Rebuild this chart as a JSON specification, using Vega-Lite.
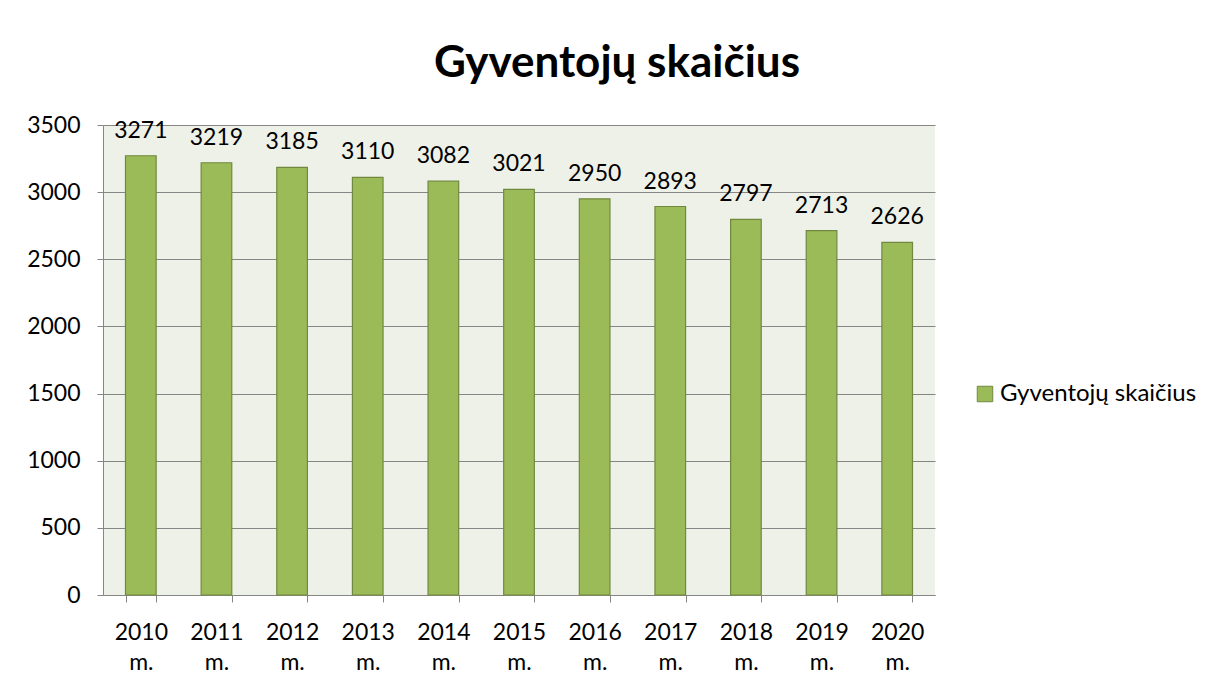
{
  "$schema": "https://vega.github.io/schema/vega-lite/v6.json",
  "width": 832,
  "height": 470,
  "autosize": {"type": "none"},
  "padding": {"left": 103, "top": 125, "right": 279, "bottom": 92},
  "background": "white",
  "config": {
    "font": "Lato",
    "view": {"fill": "#eef1e8", "stroke": null}
  },
  "title": {
    "text": "Gyventojų skaičius",
    "font": "Lato",
    "fontSize": 44,
    "fontWeight": "bold",
    "color": "#000000",
    "anchor": "middle",
    "dx": 98,
    "offset": 28
  },
  "data": {
    "values": [
      {"year": "2010 m.", "value": 3271, "series": "Gyventojų skaičius"},
      {"year": "2011 m.", "value": 3219, "series": "Gyventojų skaičius"},
      {"year": "2012 m.", "value": 3185, "series": "Gyventojų skaičius"},
      {"year": "2013 m.", "value": 3110, "series": "Gyventojų skaičius"},
      {"year": "2014 m.", "value": 3082, "series": "Gyventojų skaičius"},
      {"year": "2015 m.", "value": 3021, "series": "Gyventojų skaičius"},
      {"year": "2016 m.", "value": 2950, "series": "Gyventojų skaičius"},
      {"year": "2017 m.", "value": 2893, "series": "Gyventojų skaičius"},
      {"year": "2018 m.", "value": 2797, "series": "Gyventojų skaičius"},
      {"year": "2019 m.", "value": 2713, "series": "Gyventojų skaičius"},
      {"year": "2020 m.", "value": 2626, "series": "Gyventojų skaičius"}
    ]
  },
  "encoding": {
    "x": {
      "field": "year",
      "type": "nominal",
      "sort": null,
      "scale": {"paddingInner": 0.595, "paddingOuter": 0.2975},
      "axis": {
        "title": null,
        "labelAngle": 0,
        "labelExpr": "split(datum.label, ' ')",
        "labelFont": "Lato",
        "labelFontSize": 23,
        "labelColor": "#000000",
        "labelLineHeight": 30,
        "labelPadding": 19,
        "labelBaseline": "top",
        "domainColor": "#868686",
        "tickColor": "#868686",
        "tickBand": "extent",
        "tickSize": 7,
        "grid": false
      }
    },
    "y": {
      "field": "value",
      "type": "quantitative",
      "scale": {"domain": [0, 3500], "nice": false},
      "axis": {
        "title": null,
        "values": [0, 500, 1000, 1500, 2000, 2500, 3000, 3500],
        "format": "d",
        "labelFont": "Lato",
        "labelFontSize": 23,
        "labelColor": "#000000",
        "labelPadding": 17,
        "domainColor": "#868686",
        "tickColor": "#868686",
        "tickSize": 6,
        "gridColor": "#868686",
        "gridWidth": 1
      }
    }
  },
  "layer": [
    {
      "mark": {"type": "bar", "stroke": "#71893f", "strokeWidth": 1.2},
      "encoding": {
        "color": {
          "field": "series",
          "type": "nominal",
          "scale": {"range": ["#9bbb59"]},
          "legend": {
            "title": null,
            "orient": "none",
            "legendX": 870,
            "legendY": 257,
            "symbolType": "square",
            "symbolSize": 240,
            "symbolStrokeColor": "#71893f",
            "symbolStrokeWidth": 1,
            "symbolOpacity": 1,
            "labelFont": "Lato",
            "labelFontSize": 24,
            "labelLimit": 0,
            "labelColor": "#000000",
            "labelOffset": 3
          }
        }
      }
    },
    {
      "mark": {"type": "text", "baseline": "alphabetic", "dy": -18, "fontSize": 23, "font": "Lato", "color": "#000000"},
      "encoding": {
        "text": {"field": "value", "type": "quantitative", "format": "d"}
      }
    }
  ]
}
